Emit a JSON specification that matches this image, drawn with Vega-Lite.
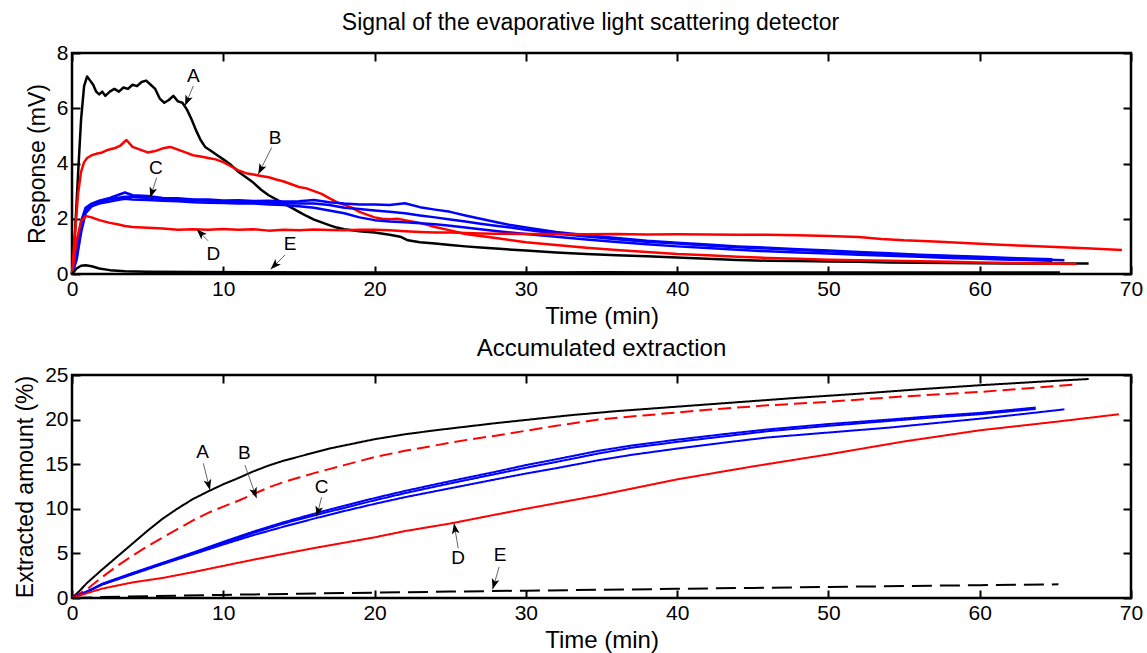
{
  "$schema": "https://vega.github.io/schema/vega-lite/v6.json",
  "background": "white",
  "padding": {"left": 13, "top": 10, "right": 0, "bottom": 0},
  "config": {
    "font": "Liberation Sans",
    "view": {"stroke": "black", "strokeWidth": 2.5},
    "title": {"fontSize": 23, "fontWeight": "normal", "color": "black", "font": "Liberation Sans"},
    "axis": {"grid": false, "domain": false, "tickColor": "black", "tickWidth": 2, "tickSize": -8, "labelFontSize": 21, "labelColor": "black", "labelFont": "Liberation Sans", "titleFont": "Liberation Sans", "titleFontSize": 23, "titleFontWeight": "normal", "titleColor": "black", "labelFlush": false, "labelOverlap": false},
    "axisX": {"labelPadding": 12, "titleFontSize": 24, "titlePadding": 5},
    "axisY": {"labelPadding": 12, "titlePadding": 7},
    "concat": {"spacing": 5}
  },
  "datasets": {
    "sig": [
      {"s":"A","t":0,"v":0},{"s":"A","t":0.2,"v":1.5},{"s":"A","t":0.4,"v":3.6},{"s":"A","t":0.6,"v":5.6},{"s":"A","t":0.8,"v":6.8},{"s":"A","t":1.0,"v":7.15},{"s":"A","t":1.2,"v":7.0},{"s":"A","t":1.4,"v":6.85},{"s":"A","t":1.6,"v":6.6},{"s":"A","t":1.8,"v":6.5},{"s":"A","t":2.0,"v":6.6},{"s":"A","t":2.2,"v":6.45},{"s":"A","t":2.5,"v":6.6},{"s":"A","t":2.8,"v":6.7},{"s":"A","t":3.1,"v":6.6},{"s":"A","t":3.4,"v":6.75},{"s":"A","t":3.7,"v":6.7},{"s":"A","t":4.0,"v":6.85},{"s":"A","t":4.3,"v":6.8},{"s":"A","t":4.6,"v":6.95},{"s":"A","t":4.9,"v":7.0},{"s":"A","t":5.2,"v":6.85},{"s":"A","t":5.5,"v":6.7},{"s":"A","t":5.8,"v":6.35},{"s":"A","t":6.1,"v":6.2},{"s":"A","t":6.4,"v":6.3},{"s":"A","t":6.7,"v":6.45},{"s":"A","t":7.0,"v":6.25},{"s":"A","t":7.3,"v":6.2},{"s":"A","t":7.6,"v":5.95},{"s":"A","t":7.9,"v":5.6},{"s":"A","t":8.2,"v":5.2},{"s":"A","t":8.5,"v":4.85},{"s":"A","t":8.8,"v":4.6},{"s":"A","t":9.2,"v":4.45},{"s":"A","t":9.6,"v":4.3},{"s":"A","t":10.0,"v":4.15},{"s":"A","t":10.5,"v":3.95},{"s":"A","t":11,"v":3.7},{"s":"A","t":11.5,"v":3.5},{"s":"A","t":12,"v":3.3},{"s":"A","t":12.5,"v":3.05},{"s":"A","t":13,"v":2.85},{"s":"A","t":13.5,"v":2.7},{"s":"A","t":14,"v":2.55},{"s":"A","t":14.5,"v":2.4},{"s":"A","t":15,"v":2.25},{"s":"A","t":15.5,"v":2.1},{"s":"A","t":16,"v":1.97},{"s":"A","t":16.5,"v":1.87},{"s":"A","t":17,"v":1.77},{"s":"A","t":17.5,"v":1.68},{"s":"A","t":18,"v":1.62},{"s":"A","t":19,"v":1.55},{"s":"A","t":20,"v":1.5},{"s":"A","t":21,"v":1.42},{"s":"A","t":21.7,"v":1.35},{"s":"A","t":22.2,"v":1.22},{"s":"A","t":23,"v":1.15},{"s":"A","t":24,"v":1.1},{"s":"A","t":25,"v":1.05},{"s":"A","t":26,"v":1.0},{"s":"A","t":27,"v":0.96},{"s":"A","t":28,"v":0.92},{"s":"A","t":30,"v":0.85},{"s":"A","t":32,"v":0.78},{"s":"A","t":34,"v":0.72},{"s":"A","t":36,"v":0.68},{"s":"A","t":38,"v":0.64},{"s":"A","t":40,"v":0.6},{"s":"A","t":42,"v":0.55},{"s":"A","t":44,"v":0.51},{"s":"A","t":46,"v":0.48},{"s":"A","t":48,"v":0.47},{"s":"A","t":50,"v":0.45},{"s":"A","t":52,"v":0.44},{"s":"A","t":54,"v":0.42},{"s":"A","t":56,"v":0.41},{"s":"A","t":58,"v":0.4},{"s":"A","t":60,"v":0.39},{"s":"A","t":62,"v":0.38},{"s":"A","t":64,"v":0.38},{"s":"A","t":66,"v":0.38},{"s":"A","t":67.2,"v":0.38},
      {"s":"B","t":0,"v":0},{"s":"B","t":0.2,"v":1.5},{"s":"B","t":0.4,"v":2.9},{"s":"B","t":0.6,"v":3.7},{"s":"B","t":0.8,"v":4.05},{"s":"B","t":1.0,"v":4.2},{"s":"B","t":1.3,"v":4.3},{"s":"B","t":1.6,"v":4.35},{"s":"B","t":2.0,"v":4.4},{"s":"B","t":2.4,"v":4.5},{"s":"B","t":2.8,"v":4.55},{"s":"B","t":3.2,"v":4.65},{"s":"B","t":3.6,"v":4.85},{"s":"B","t":4.0,"v":4.6},{"s":"B","t":4.5,"v":4.5},{"s":"B","t":5.0,"v":4.4},{"s":"B","t":5.5,"v":4.45},{"s":"B","t":6.0,"v":4.55},{"s":"B","t":6.5,"v":4.6},{"s":"B","t":7.0,"v":4.5},{"s":"B","t":7.5,"v":4.4},{"s":"B","t":8.0,"v":4.3},{"s":"B","t":8.5,"v":4.25},{"s":"B","t":9.0,"v":4.2},{"s":"B","t":9.5,"v":4.15},{"s":"B","t":10.0,"v":4.05},{"s":"B","t":10.5,"v":3.9},{"s":"B","t":11,"v":3.75},{"s":"B","t":11.5,"v":3.65},{"s":"B","t":12,"v":3.6},{"s":"B","t":12.5,"v":3.55},{"s":"B","t":13,"v":3.5},{"s":"B","t":13.5,"v":3.42},{"s":"B","t":14,"v":3.35},{"s":"B","t":14.5,"v":3.25},{"s":"B","t":15,"v":3.15},{"s":"B","t":15.5,"v":3.1},{"s":"B","t":16,"v":3.0},{"s":"B","t":16.5,"v":2.9},{"s":"B","t":17,"v":2.75},{"s":"B","t":17.5,"v":2.6},{"s":"B","t":18,"v":2.5},{"s":"B","t":18.5,"v":2.4},{"s":"B","t":19,"v":2.25},{"s":"B","t":19.5,"v":2.15},{"s":"B","t":20,"v":2.05},{"s":"B","t":20.5,"v":2.0},{"s":"B","t":21,"v":1.98},{"s":"B","t":21.5,"v":2.0},{"s":"B","t":22,"v":1.95},{"s":"B","t":23,"v":1.85},{"s":"B","t":24,"v":1.7},{"s":"B","t":25,"v":1.58},{"s":"B","t":26,"v":1.45},{"s":"B","t":28,"v":1.3},{"s":"B","t":30,"v":1.15},{"s":"B","t":32,"v":1.05},{"s":"B","t":34,"v":0.95},{"s":"B","t":36,"v":0.87},{"s":"B","t":38,"v":0.8},{"s":"B","t":40,"v":0.72},{"s":"B","t":42,"v":0.68},{"s":"B","t":44,"v":0.62},{"s":"B","t":46,"v":0.58},{"s":"B","t":48,"v":0.55},{"s":"B","t":50,"v":0.52},{"s":"B","t":52,"v":0.5},{"s":"B","t":54,"v":0.48},{"s":"B","t":56,"v":0.46},{"s":"B","t":58,"v":0.44},{"s":"B","t":60,"v":0.42},{"s":"B","t":62,"v":0.4},{"s":"B","t":64,"v":0.38},{"s":"B","t":66.4,"v":0.36},
      {"s":"C1","t":0,"v":0},{"s":"C1","t":0.3,"v":0.8},{"s":"C1","t":0.6,"v":1.9},{"s":"C1","t":0.9,"v":2.4},{"s":"C1","t":1.3,"v":2.55},{"s":"C1","t":1.8,"v":2.65},{"s":"C1","t":2.5,"v":2.75},{"s":"C1","t":3,"v":2.85},{"s":"C1","t":3.5,"v":2.95},{"s":"C1","t":4,"v":2.85},{"s":"C1","t":5,"v":2.82},{"s":"C1","t":6,"v":2.75},{"s":"C1","t":7,"v":2.74},{"s":"C1","t":8,"v":2.7},{"s":"C1","t":9,"v":2.7},{"s":"C1","t":10,"v":2.66},{"s":"C1","t":11,"v":2.67},{"s":"C1","t":12,"v":2.64},{"s":"C1","t":13,"v":2.65},{"s":"C1","t":14,"v":2.62},{"s":"C1","t":15,"v":2.63},{"s":"C1","t":16,"v":2.68},{"s":"C1","t":17,"v":2.6},{"s":"C1","t":18,"v":2.55},{"s":"C1","t":19,"v":2.52},{"s":"C1","t":20,"v":2.52},{"s":"C1","t":21,"v":2.5},{"s":"C1","t":22,"v":2.56},{"s":"C1","t":23,"v":2.42},{"s":"C1","t":24,"v":2.33},{"s":"C1","t":25,"v":2.25},{"s":"C1","t":26,"v":2.12},{"s":"C1","t":27,"v":2.0},{"s":"C1","t":28,"v":1.88},{"s":"C1","t":29,"v":1.77},{"s":"C1","t":30,"v":1.68},{"s":"C1","t":32,"v":1.52},{"s":"C1","t":34,"v":1.4},{"s":"C1","t":36,"v":1.3},{"s":"C1","t":38,"v":1.2},{"s":"C1","t":40,"v":1.13},{"s":"C1","t":42,"v":1.07},{"s":"C1","t":44,"v":1.0},{"s":"C1","t":46,"v":0.95},{"s":"C1","t":48,"v":0.9},{"s":"C1","t":50,"v":0.85},{"s":"C1","t":52,"v":0.8},{"s":"C1","t":54,"v":0.75},{"s":"C1","t":56,"v":0.7},{"s":"C1","t":58,"v":0.66},{"s":"C1","t":60,"v":0.62},{"s":"C1","t":62,"v":0.58},{"s":"C1","t":64.8,"v":0.53},
      {"s":"C2","t":0,"v":0},{"s":"C2","t":0.3,"v":0.6},{"s":"C2","t":0.6,"v":1.7},{"s":"C2","t":0.9,"v":2.3},{"s":"C2","t":1.3,"v":2.5},{"s":"C2","t":1.8,"v":2.6},{"s":"C2","t":2.5,"v":2.7},{"s":"C2","t":3,"v":2.75},{"s":"C2","t":3.5,"v":2.8},{"s":"C2","t":4,"v":2.8},{"s":"C2","t":5,"v":2.75},{"s":"C2","t":6,"v":2.72},{"s":"C2","t":7,"v":2.7},{"s":"C2","t":8,"v":2.68},{"s":"C2","t":9,"v":2.65},{"s":"C2","t":10,"v":2.62},{"s":"C2","t":11,"v":2.6},{"s":"C2","t":12,"v":2.6},{"s":"C2","t":13,"v":2.58},{"s":"C2","t":14,"v":2.57},{"s":"C2","t":15,"v":2.55},{"s":"C2","t":16,"v":2.55},{"s":"C2","t":17,"v":2.5},{"s":"C2","t":18,"v":2.4},{"s":"C2","t":19,"v":2.35},{"s":"C2","t":20,"v":2.3},{"s":"C2","t":21,"v":2.25},{"s":"C2","t":22,"v":2.2},{"s":"C2","t":23,"v":2.12},{"s":"C2","t":24,"v":2.05},{"s":"C2","t":25,"v":1.97},{"s":"C2","t":26,"v":1.9},{"s":"C2","t":27,"v":1.82},{"s":"C2","t":28,"v":1.75},{"s":"C2","t":29,"v":1.68},{"s":"C2","t":30,"v":1.6},{"s":"C2","t":32,"v":1.47},{"s":"C2","t":34,"v":1.36},{"s":"C2","t":36,"v":1.26},{"s":"C2","t":38,"v":1.17},{"s":"C2","t":40,"v":1.1},{"s":"C2","t":42,"v":1.03},{"s":"C2","t":44,"v":0.97},{"s":"C2","t":46,"v":0.92},{"s":"C2","t":48,"v":0.87},{"s":"C2","t":50,"v":0.82},{"s":"C2","t":52,"v":0.77},{"s":"C2","t":54,"v":0.72},{"s":"C2","t":56,"v":0.68},{"s":"C2","t":58,"v":0.64},{"s":"C2","t":60,"v":0.6},{"s":"C2","t":62,"v":0.56},{"s":"C2","t":65.6,"v":0.5},
      {"s":"C3","t":0,"v":0},{"s":"C3","t":0.3,"v":0.5},{"s":"C3","t":0.6,"v":1.5},{"s":"C3","t":0.9,"v":2.2},{"s":"C3","t":1.3,"v":2.45},{"s":"C3","t":1.8,"v":2.55},{"s":"C3","t":2.5,"v":2.62},{"s":"C3","t":3,"v":2.68},{"s":"C3","t":3.5,"v":2.72},{"s":"C3","t":4,"v":2.7},{"s":"C3","t":5,"v":2.68},{"s":"C3","t":6,"v":2.65},{"s":"C3","t":7,"v":2.63},{"s":"C3","t":8,"v":2.6},{"s":"C3","t":9,"v":2.58},{"s":"C3","t":10,"v":2.57},{"s":"C3","t":11,"v":2.55},{"s":"C3","t":12,"v":2.55},{"s":"C3","t":13,"v":2.52},{"s":"C3","t":14,"v":2.5},{"s":"C3","t":15,"v":2.45},{"s":"C3","t":16,"v":2.4},{"s":"C3","t":17,"v":2.3},{"s":"C3","t":18,"v":2.2},{"s":"C3","t":19,"v":2.05},{"s":"C3","t":20,"v":1.95},{"s":"C3","t":21,"v":1.9},{"s":"C3","t":22,"v":1.87},{"s":"C3","t":23,"v":1.84},{"s":"C3","t":24,"v":1.8},{"s":"C3","t":25,"v":1.75},{"s":"C3","t":26,"v":1.68},{"s":"C3","t":27,"v":1.62},{"s":"C3","t":28,"v":1.56},{"s":"C3","t":29,"v":1.5},{"s":"C3","t":30,"v":1.45},{"s":"C3","t":32,"v":1.35},{"s":"C3","t":34,"v":1.25},{"s":"C3","t":36,"v":1.16},{"s":"C3","t":38,"v":1.08},{"s":"C3","t":40,"v":1.0},{"s":"C3","t":42,"v":0.94},{"s":"C3","t":44,"v":0.88},{"s":"C3","t":46,"v":0.82},{"s":"C3","t":48,"v":0.78},{"s":"C3","t":50,"v":0.74},{"s":"C3","t":52,"v":0.7},{"s":"C3","t":54,"v":0.66},{"s":"C3","t":56,"v":0.62},{"s":"C3","t":58,"v":0.58},{"s":"C3","t":60,"v":0.55},{"s":"C3","t":62,"v":0.52},{"s":"C3","t":64.8,"v":0.48},
      {"s":"D","t":0,"v":0},{"s":"D","t":0.3,"v":1.2},{"s":"D","t":0.6,"v":1.9},{"s":"D","t":0.9,"v":2.1},{"s":"D","t":1.3,"v":2.05},{"s":"D","t":1.8,"v":1.95},{"s":"D","t":2.5,"v":1.85},{"s":"D","t":3,"v":1.8},{"s":"D","t":3.5,"v":1.74},{"s":"D","t":4,"v":1.7},{"s":"D","t":5,"v":1.67},{"s":"D","t":6,"v":1.65},{"s":"D","t":7,"v":1.6},{"s":"D","t":8,"v":1.62},{"s":"D","t":9,"v":1.6},{"s":"D","t":10,"v":1.63},{"s":"D","t":11,"v":1.6},{"s":"D","t":12,"v":1.62},{"s":"D","t":13,"v":1.57},{"s":"D","t":14,"v":1.6},{"s":"D","t":15,"v":1.58},{"s":"D","t":16,"v":1.61},{"s":"D","t":17,"v":1.59},{"s":"D","t":18,"v":1.58},{"s":"D","t":19,"v":1.6},{"s":"D","t":20,"v":1.6},{"s":"D","t":21,"v":1.58},{"s":"D","t":22,"v":1.55},{"s":"D","t":23,"v":1.52},{"s":"D","t":24,"v":1.5},{"s":"D","t":25,"v":1.5},{"s":"D","t":26,"v":1.48},{"s":"D","t":27,"v":1.47},{"s":"D","t":28,"v":1.46},{"s":"D","t":30,"v":1.45},{"s":"D","t":32,"v":1.45},{"s":"D","t":34,"v":1.44},{"s":"D","t":36,"v":1.45},{"s":"D","t":38,"v":1.43},{"s":"D","t":40,"v":1.44},{"s":"D","t":42,"v":1.43},{"s":"D","t":44,"v":1.42},{"s":"D","t":46,"v":1.42},{"s":"D","t":48,"v":1.4},{"s":"D","t":50,"v":1.38},{"s":"D","t":52,"v":1.34},{"s":"D","t":53.5,"v":1.27},{"s":"D","t":55,"v":1.22},{"s":"D","t":57,"v":1.18},{"s":"D","t":59,"v":1.12},{"s":"D","t":61,"v":1.07},{"s":"D","t":63,"v":1.02},{"s":"D","t":65,"v":0.98},{"s":"D","t":67,"v":0.93},{"s":"D","t":69.4,"v":0.87},
      {"s":"E","t":0,"v":0},{"s":"E","t":0.3,"v":0.2},{"s":"E","t":0.6,"v":0.3},{"s":"E","t":0.9,"v":0.32},{"s":"E","t":1.3,"v":0.28},{"s":"E","t":1.8,"v":0.2},{"s":"E","t":2.5,"v":0.14},{"s":"E","t":3.5,"v":0.1},{"s":"E","t":5,"v":0.08},{"s":"E","t":8,"v":0.07},{"s":"E","t":12,"v":0.06},{"s":"E","t":20,"v":0.05},{"s":"E","t":30,"v":0.05},{"s":"E","t":35,"v":0.06},{"s":"E","t":40,"v":0.05},{"s":"E","t":50,"v":0.05},{"s":"E","t":60,"v":0.05},{"s":"E","t":65.3,"v":0.05}
    ],
    "acc": [
      {"s":"A","t":0,"v":0},{"s":"A","t":0.5,"v":0.8},{"s":"A","t":1,"v":1.7},{"s":"A","t":2,"v":3.2},{"s":"A","t":3,"v":4.65},{"s":"A","t":4,"v":6.1},{"s":"A","t":5,"v":7.55},{"s":"A","t":6,"v":8.9},{"s":"A","t":7,"v":10.05},{"s":"A","t":8,"v":11.1},{"s":"A","t":9,"v":11.95},{"s":"A","t":10,"v":12.75},{"s":"A","t":11,"v":13.45},{"s":"A","t":12,"v":14.2},{"s":"A","t":13,"v":14.85},{"s":"A","t":14,"v":15.4},{"s":"A","t":15,"v":15.85},{"s":"A","t":16,"v":16.3},{"s":"A","t":17,"v":16.75},{"s":"A","t":18,"v":17.1},{"s":"A","t":19,"v":17.45},{"s":"A","t":20,"v":17.8},{"s":"A","t":22,"v":18.35},{"s":"A","t":24,"v":18.8},{"s":"A","t":26,"v":19.2},{"s":"A","t":28,"v":19.6},{"s":"A","t":30,"v":19.96},{"s":"A","t":33,"v":20.5},{"s":"A","t":36,"v":20.95},{"s":"A","t":40,"v":21.45},{"s":"A","t":44,"v":21.95},{"s":"A","t":48,"v":22.45},{"s":"A","t":52,"v":22.9},{"s":"A","t":56,"v":23.4},{"s":"A","t":60,"v":23.85},{"s":"A","t":64,"v":24.25},{"s":"A","t":67.2,"v":24.55},
      {"s":"B","t":0,"v":0},{"s":"B","t":1,"v":1.0},{"s":"B","t":2,"v":2.35},{"s":"B","t":3,"v":3.6},{"s":"B","t":4,"v":4.75},{"s":"B","t":5,"v":5.8},{"s":"B","t":6,"v":6.8},{"s":"B","t":7,"v":7.75},{"s":"B","t":8,"v":8.7},{"s":"B","t":9,"v":9.55},{"s":"B","t":10,"v":10.25},{"s":"B","t":11,"v":10.9},{"s":"B","t":12,"v":11.65},{"s":"B","t":13,"v":12.4},{"s":"B","t":14,"v":13.0},{"s":"B","t":15,"v":13.5},{"s":"B","t":16,"v":14.0},{"s":"B","t":17,"v":14.45},{"s":"B","t":18,"v":14.9},{"s":"B","t":19,"v":15.35},{"s":"B","t":20,"v":15.8},{"s":"B","t":22,"v":16.5},{"s":"B","t":24,"v":17.1},{"s":"B","t":26,"v":17.7},{"s":"B","t":28,"v":18.2},{"s":"B","t":30,"v":18.75},{"s":"B","t":32,"v":19.3},{"s":"B","t":34.8,"v":20.0},{"s":"B","t":38,"v":20.5},{"s":"B","t":42,"v":21.1},{"s":"B","t":46,"v":21.6},{"s":"B","t":50,"v":22.0},{"s":"B","t":55,"v":22.6},{"s":"B","t":60,"v":23.1},{"s":"B","t":63,"v":23.5},{"s":"B","t":66.5,"v":23.95},
      {"s":"C1","t":0,"v":0},{"s":"C1","t":1,"v":0.75},{"s":"C1","t":2,"v":1.6},{"s":"C1","t":4,"v":2.8},{"s":"C1","t":6,"v":3.95},{"s":"C1","t":8,"v":5.1},{"s":"C1","t":10,"v":6.3},{"s":"C1","t":12,"v":7.45},{"s":"C1","t":14,"v":8.5},{"s":"C1","t":16,"v":9.45},{"s":"C1","t":18,"v":10.35},{"s":"C1","t":20,"v":11.2},{"s":"C1","t":22,"v":12.0},{"s":"C1","t":25,"v":13.1},{"s":"C1","t":28,"v":14.15},{"s":"C1","t":30,"v":14.9},{"s":"C1","t":32,"v":15.55},{"s":"C1","t":34.8,"v":16.5},{"s":"C1","t":37,"v":17.1},{"s":"C1","t":40,"v":17.75},{"s":"C1","t":43,"v":18.35},{"s":"C1","t":46,"v":18.9},{"s":"C1","t":50,"v":19.5},{"s":"C1","t":54,"v":20.0},{"s":"C1","t":57,"v":20.4},{"s":"C1","t":60,"v":20.75},{"s":"C1","t":63.7,"v":21.35},
      {"s":"C2","t":0,"v":0},{"s":"C2","t":1,"v":0.7},{"s":"C2","t":2,"v":1.55},{"s":"C2","t":4,"v":2.75},{"s":"C2","t":6,"v":3.9},{"s":"C2","t":8,"v":5.0},{"s":"C2","t":10,"v":6.15},{"s":"C2","t":12,"v":7.3},{"s":"C2","t":14,"v":8.35},{"s":"C2","t":16,"v":9.25},{"s":"C2","t":18,"v":10.1},{"s":"C2","t":20,"v":10.95},{"s":"C2","t":22,"v":11.75},{"s":"C2","t":25,"v":12.85},{"s":"C2","t":28,"v":13.9},{"s":"C2","t":30,"v":14.6},{"s":"C2","t":32,"v":15.25},{"s":"C2","t":34.8,"v":16.2},{"s":"C2","t":37,"v":16.85},{"s":"C2","t":40,"v":17.5},{"s":"C2","t":43,"v":18.1},{"s":"C2","t":46,"v":18.7},{"s":"C2","t":50,"v":19.3},{"s":"C2","t":54,"v":19.85},{"s":"C2","t":57,"v":20.25},{"s":"C2","t":60,"v":20.6},{"s":"C2","t":63.7,"v":21.2},
      {"s":"C3","t":0,"v":0},{"s":"C3","t":1,"v":0.7},{"s":"C3","t":2,"v":1.5},{"s":"C3","t":4,"v":2.65},{"s":"C3","t":6,"v":3.8},{"s":"C3","t":8,"v":4.9},{"s":"C3","t":10,"v":6.0},{"s":"C3","t":12,"v":7.05},{"s":"C3","t":14,"v":8.0},{"s":"C3","t":16,"v":8.9},{"s":"C3","t":18,"v":9.75},{"s":"C3","t":20,"v":10.55},{"s":"C3","t":22,"v":11.3},{"s":"C3","t":25,"v":12.3},{"s":"C3","t":28,"v":13.3},{"s":"C3","t":30,"v":13.95},{"s":"C3","t":32,"v":14.55},{"s":"C3","t":34.8,"v":15.45},{"s":"C3","t":37,"v":16.05},{"s":"C3","t":40,"v":16.75},{"s":"C3","t":43,"v":17.4},{"s":"C3","t":46,"v":18.0},{"s":"C3","t":50,"v":18.55},{"s":"C3","t":54,"v":19.1},{"s":"C3","t":57,"v":19.6},{"s":"C3","t":60,"v":20.1},{"s":"C3","t":63,"v":20.65},{"s":"C3","t":65.6,"v":21.15},
      {"s":"D","t":0,"v":0},{"s":"D","t":1,"v":0.55},{"s":"D","t":2,"v":1.05},{"s":"D","t":4,"v":1.75},{"s":"D","t":6,"v":2.25},{"s":"D","t":8,"v":2.9},{"s":"D","t":10,"v":3.6},{"s":"D","t":12,"v":4.3},{"s":"D","t":14,"v":4.95},{"s":"D","t":16,"v":5.6},{"s":"D","t":18,"v":6.2},{"s":"D","t":20,"v":6.8},{"s":"D","t":22,"v":7.5},{"s":"D","t":25,"v":8.35},{"s":"D","t":28,"v":9.35},{"s":"D","t":30,"v":10.0},{"s":"D","t":34.8,"v":11.5},{"s":"D","t":40,"v":13.3},{"s":"D","t":45,"v":14.75},{"s":"D","t":50,"v":16.1},{"s":"D","t":55,"v":17.55},{"s":"D","t":60,"v":18.8},{"s":"D","t":65,"v":19.75},{"s":"D","t":69.2,"v":20.6},
      {"s":"E","t":0,"v":0},{"s":"E","t":2,"v":0.1},{"s":"E","t":5,"v":0.2},{"s":"E","t":10,"v":0.35},{"s":"E","t":15,"v":0.48},{"s":"E","t":20,"v":0.6},{"s":"E","t":25,"v":0.72},{"s":"E","t":30,"v":0.82},{"s":"E","t":35,"v":0.92},{"s":"E","t":40,"v":1.03},{"s":"E","t":45,"v":1.13},{"s":"E","t":50,"v":1.24},{"s":"E","t":55,"v":1.34},{"s":"E","t":60,"v":1.44},{"s":"E","t":65.2,"v":1.53}
    ],
    "ann1": [
      {"label":"A","lx":8.02,"ly":7.17,"ax":8.02,"ay":6.81,"tx":7.47,"ty":6.09},
      {"label":"B","lx":13.42,"ly":4.94,"ax":13.2,"ay":4.58,"tx":12.31,"ty":3.61},
      {"label":"C","lx":5.55,"ly":3.85,"ax":5.6,"ay":3.49,"tx":5.16,"ty":2.76},
      {"label":"D","lx":9.34,"ly":0.74,"ax":9.0,"ay":1.2,"tx":8.24,"ty":1.62},
      {"label":"E","lx":14.41,"ly":1.08,"ax":14.08,"ay":0.69,"tx":13.13,"ty":0.17}
    ],
    "ann2": [
      {"label":"A","lx":8.63,"ly":16.4,"ax":8.68,"ay":15.1,"tx":9.12,"ty":12.1},
      {"label":"B","lx":11.39,"ly":16.3,"ax":11.43,"ay":14.9,"tx":12.2,"ty":11.2},
      {"label":"C","lx":16.5,"ly":12.5,"ax":16.5,"ay":11.3,"tx":16.17,"ty":9.1},
      {"label":"D","lx":25.53,"ly":4.45,"ax":25.53,"ay":5.57,"tx":25.25,"ty":8.37},
      {"label":"E","lx":28.29,"ly":4.82,"ax":28.24,"ay":3.5,"tx":27.8,"ty":0.97}
    ]
  },
  "vconcat": [
    {
      "width": 1059,
      "height": 221,
      "title": {"text": "Signal of the evaporative light scattering detector", "dx": -11, "offset": 7},
      "resolve": {"axis": {"x": "independent", "y": "independent"}},
      "layer": [
        {
          "data": {"name": "sig"},
          "mark": {"type": "line", "strokeWidth": 2.5, "strokeJoin": "round"},
          "encoding": {
            "x": {"field": "t", "type": "quantitative", "scale": {"domain": [0, 70], "nice": false, "zero": false}, "axis": {"orient": "bottom", "values": [0,10,20,30,40,50,60,70], "title": "Time (min)"}},
            "y": {"field": "v", "type": "quantitative", "scale": {"domain": [0, 8], "nice": false}, "axis": {"orient": "left", "values": [0,2,4,6,8], "title": "Response (mV)"}},
            "color": {"field": "s", "type": "nominal", "scale": {"domain": ["A","B","C1","C2","C3","D","E"], "range": ["#000000","#ff0000","#0000ff","#0000ff","#0000ff","#ff0000","#000000"]}, "legend": null}
          }
        },
        {
          "data": {"name": "ann1"},
          "mark": {"type": "rule", "color": "#666666", "strokeWidth": 1},
          "encoding": {
            "x": {"field": "ax", "type": "quantitative", "scale": {"domain": [0, 70], "nice": false, "zero": false}, "axis": null},
            "y": {"field": "ay", "type": "quantitative", "scale": {"domain": [0, 8], "nice": false}, "axis": null},
            "x2": {"field": "tx"},
            "y2": {"field": "ty"}
          }
        },
        {
          "data": {"name": "ann1"},
          "transform": [{"calculate": "atan2((datum.tx - datum.ax) * 15.13, (datum.ty - datum.ay) * 27.6) * 180 / PI", "as": "ang"}],
          "mark": {"type": "point", "shape": "M0,0L0.55,1.5L0,1.15L-0.55,1.5Z", "filled": true, "color": "black", "opacity": 1, "size": 200},
          "encoding": {
            "x": {"field": "tx", "type": "quantitative", "scale": {"domain": [0, 70], "nice": false, "zero": false}, "axis": null},
            "y": {"field": "ty", "type": "quantitative", "scale": {"domain": [0, 8], "nice": false}, "axis": null},
            "angle": {"field": "ang", "type": "quantitative", "scale": null}
          }
        },
        {
          "data": {"name": "ann1"},
          "mark": {"type": "text", "fontSize": 19, "align": "center", "baseline": "middle", "color": "black"},
          "encoding": {
            "x": {"field": "lx", "type": "quantitative", "scale": {"domain": [0, 70], "nice": false, "zero": false}, "axis": {"orient": "top", "values": [0,10,20,30,40,50,60,70], "labels": false, "title": null}},
            "y": {"field": "ly", "type": "quantitative", "scale": {"domain": [0, 8], "nice": false}, "axis": {"orient": "right", "values": [0,2,4,6,8], "labels": false, "title": null}},
            "text": {"field": "label"}
          }
        }
      ]
    },
    {
      "width": 1059,
      "height": 223,
      "title": {"text": "Accumulated extraction", "offset": 3, "fontSize": 24},
      "resolve": {"axis": {"x": "independent", "y": "independent"}},
      "layer": [
        {
          "data": {"name": "acc"},
          "mark": {"type": "line", "strokeWidth": 2},
          "encoding": {
            "x": {"field": "t", "type": "quantitative", "scale": {"domain": [0, 70], "nice": false, "zero": false}, "axis": {"orient": "bottom", "values": [0,10,20,30,40,50,60,70], "title": "Time (min)"}},
            "y": {"field": "v", "type": "quantitative", "scale": {"domain": [0, 25], "nice": false}, "axis": {"orient": "left", "values": [0,5,10,15,20,25], "title": "Extracted amount (%)"}},
            "color": {"field": "s", "type": "nominal", "scale": {"domain": ["A","B","C1","C2","C3","D","E"], "range": ["#000000","#ff0000","#0000ff","#0000ff","#0000ff","#ff0000","#000000"]}, "legend": null},
            "strokeDash": {"field": "s", "type": "nominal", "scale": {"domain": ["A","B","C1","C2","C3","D","E"], "range": [[1,0],[13,6],[1,0],[1,0],[1,0],[1,0],[20,8]]}, "legend": null}
          }
        },
        {
          "data": {"name": "ann2"},
          "mark": {"type": "rule", "color": "#666666", "strokeWidth": 1},
          "encoding": {
            "x": {"field": "ax", "type": "quantitative", "scale": {"domain": [0, 70], "nice": false, "zero": false}, "axis": null},
            "y": {"field": "ay", "type": "quantitative", "scale": {"domain": [0, 25], "nice": false}, "axis": null},
            "x2": {"field": "tx"},
            "y2": {"field": "ty"}
          }
        },
        {
          "data": {"name": "ann2"},
          "transform": [{"calculate": "atan2((datum.tx - datum.ax) * 15.13, (datum.ty - datum.ay) * 8.92) * 180 / PI", "as": "ang"}],
          "mark": {"type": "point", "shape": "M0,0L0.55,1.5L0,1.15L-0.55,1.5Z", "filled": true, "color": "black", "opacity": 1, "size": 200},
          "encoding": {
            "x": {"field": "tx", "type": "quantitative", "scale": {"domain": [0, 70], "nice": false, "zero": false}, "axis": null},
            "y": {"field": "ty", "type": "quantitative", "scale": {"domain": [0, 25], "nice": false}, "axis": null},
            "angle": {"field": "ang", "type": "quantitative", "scale": null}
          }
        },
        {
          "data": {"name": "ann2"},
          "mark": {"type": "text", "fontSize": 19, "align": "center", "baseline": "middle", "color": "black"},
          "encoding": {
            "x": {"field": "lx", "type": "quantitative", "scale": {"domain": [0, 70], "nice": false, "zero": false}, "axis": {"orient": "top", "values": [0,10,20,30,40,50,60,70], "labels": false, "title": null}},
            "y": {"field": "ly", "type": "quantitative", "scale": {"domain": [0, 25], "nice": false}, "axis": {"orient": "right", "values": [0,5,10,15,20,25], "labels": false, "title": null}},
            "text": {"field": "label"}
          }
        }
      ]
    }
  ]
}
